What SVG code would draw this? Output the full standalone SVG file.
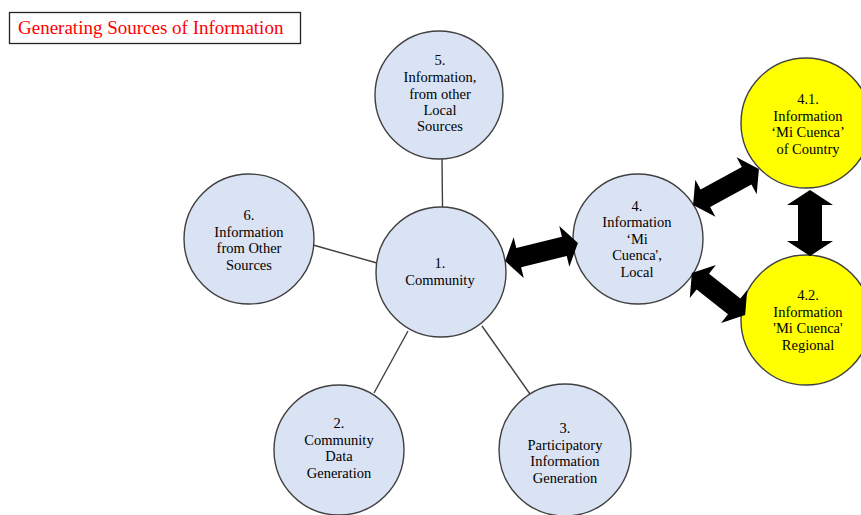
<svg xmlns="http://www.w3.org/2000/svg" width="861" height="515" viewBox="0 0 861 515">
<style>
.n{fill:#dae3f3;stroke:#404040;stroke-width:1.4}
.y{fill:#ffff00;stroke:#404040;stroke-width:1.4}
.t{font-family:'Liberation Serif','Times New Roman',serif;font-size:14.5px;fill:#000;text-anchor:middle}
.c{stroke:#404040;stroke-width:1.4;fill:none}
.a{fill:#000}
</style>
<rect width="861" height="515" fill="#fff"/>
<g id="title">
<rect x="9.5" y="12.5" width="291" height="31" fill="#fff" stroke="#222" stroke-width="1.3"/>
<text x="18" y="34" style="font-family:'Liberation Serif','Times New Roman',serif;font-size:19px;fill:#ff0000">Generating Sources of Information</text>
</g>
<g id="connectors">
<line class="c" x1="442" y1="159" x2="442.5" y2="207"/>
<line class="c" x1="313" y1="245" x2="377" y2="263"/>
<line class="c" x1="408" y1="331" x2="374" y2="393"/>
<line class="c" x1="482" y1="326" x2="530" y2="394"/>
</g>
<g id="n5"><circle class="n" cx="439" cy="95" r="64"/>
<text class="t" font-family="Liberation Serif, Times New Roman, serif"><tspan x="440" y="65">5.</tspan><tspan x="440" y="82">Information,</tspan><tspan x="440" y="99">from other</tspan><tspan x="440" y="115">Local</tspan><tspan x="440" y="131">Sources</tspan></text></g>
<g id="n1"><circle class="n" cx="441" cy="272" r="65"/>
<text class="t" font-family="Liberation Serif, Times New Roman, serif"><tspan x="440" y="268">1.</tspan><tspan x="440" y="285">Community</tspan></text></g>
<g id="n6"><circle class="n" cx="249" cy="239" r="65"/>
<text class="t" font-family="Liberation Serif, Times New Roman, serif"><tspan x="249" y="220">6.</tspan><tspan x="249" y="237">Information</tspan><tspan x="249" y="253">from Other</tspan><tspan x="249" y="270">Sources</tspan></text></g>
<g id="n2"><circle class="n" cx="339" cy="450" r="65"/>
<text class="t" font-family="Liberation Serif, Times New Roman, serif"><tspan x="339" y="428">2.</tspan><tspan x="339" y="445">Community</tspan><tspan x="339" y="461">Data</tspan><tspan x="339" y="478">Generation</tspan></text></g>
<g id="n3"><circle class="n" cx="565" cy="450" r="66"/>
<text class="t" font-family="Liberation Serif, Times New Roman, serif"><tspan x="565" y="433">3.</tspan><tspan x="565" y="450">Participatory</tspan><tspan x="565" y="466">Information</tspan><tspan x="565" y="483">Generation</tspan></text></g>
<g id="n4"><circle class="n" cx="638" cy="239" r="65"/>
<text class="t" font-family="Liberation Serif, Times New Roman, serif"><tspan x="637" y="211">4.</tspan><tspan x="637" y="227">Information</tspan><tspan x="637" y="244">‘Mi</tspan><tspan x="637" y="260">Cuenca',</tspan><tspan x="637" y="277">Local</tspan></text></g>
<g id="n41"><circle class="y" cx="806" cy="123" r="65"/>
<text class="t" font-family="Liberation Serif, Times New Roman, serif"><tspan x="808" y="104">4.1.</tspan><tspan x="808" y="121">Information</tspan><tspan x="808" y="137">‘Mi Cuenca’</tspan><tspan x="808" y="154">of Country</tspan></text></g>
<g id="n42"><circle class="y" cx="806" cy="320" r="65"/>
<text class="t" font-family="Liberation Serif, Times New Roman, serif"><tspan x="808" y="300">4.2.</tspan><tspan x="808" y="317">Information</tspan><tspan x="808" y="333">'Mi Cuenca'</tspan><tspan x="808" y="350">Regional</tspan></text></g>
<g id="arrows">
<polygon class="a" transform="translate(541.5 252) rotate(-13.9)" points="-37.5,0 -23.5,-21 -23.5,-10 23.5,-10 23.5,-21 37.5,0 23.5,21 23.5,10 -23.5,10 -23.5,21"/>
<polygon class="a" transform="translate(726 187) rotate(-28.6)" points="-37.5,0 -23.5,-21 -23.5,-10 23.5,-10 23.5,-21 37.5,0 23.5,21 23.5,10 -23.5,10 -23.5,21"/>
<polygon class="a" transform="translate(718.5 294) rotate(38.4)" points="-34,0 -20,-21 -20,-10 20,-10 20,-21 34,0 20,21 20,10 -20,10 -20,21"/>
<polygon class="a" transform="translate(810 223) rotate(90)" points="-33,0 -18,-23 -18,-12 18,-12 18,-23 33,0 18,23 18,12 -18,12 -18,23"/>
</g>
</svg>
